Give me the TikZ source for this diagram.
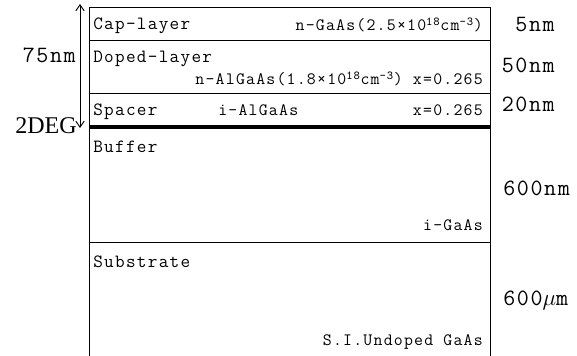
\documentclass[tikz,border=0pt]{standalone}
\usepackage{fontspec}
\setmainfont{Liberation Serif}
\newfontfamily\stackfont{Latin Modern Mono}[LetterSpace=7]
\usetikzlibrary{arrows.meta}
\tikzset{
  layername/.style={anchor=base west,inner sep=0pt,
    font=\stackfont\fontsize{14}{16}\selectfont},
  material/.style={anchor=base east,inner sep=0pt,
    font=\stackfont\fontsize{13}{15}\selectfont},
  thickness/.style={inner sep=0pt,font=\stackfont\fontsize{17.5}{20}\selectfont},
  boundary/.style={draw=black,line width=0.6pt},
  channel/.style={draw=black,line width=3.6pt},
  arrow/.style={{Straight Barb[length=1.6mm,width=2.2mm]}-{Straight Barb[length=1.6mm,width=2.2mm]},
    line width=0.7pt}
}

\begin{document}
\begin{tikzpicture}[x=0.75pt,y=-0.75pt]
  \useasboundingbox (0,0) rectangle (577,356);
  % layer stack
  \draw[boundary] (89,356) -- (89,7) -- (490,7) -- (490,356);
  \draw[boundary] (89,40) -- (490,40);
  \draw[boundary] (89,93) -- (490,93);
  \draw[boundary] (89,242) -- (490,242);
  \draw[channel] (89,127) -- (490,127);

  % layer names
  \node[layername] (cap) at (93,30) {Cap-layer};
  \node[layername] (dop) at (93,63) {Doped-layer};
  \node[layername] (spa) at (93,116) {Spacer};
  \node[layername] (buf) at (93,152) {Buffer};
  \node[layername] (sub) at (93,267) {Substrate};

  % materials
  \node[material] (capm) at (483,31) {n-GaAs(2.5×10\textsuperscript{18}cm\textsuperscript{-3})};
  \node[material] (dopm) at (483,85) {n-AlGaAs(1.8×10\textsuperscript{18}cm\textsuperscript{-3}) x=0.265};
  \node[material,anchor=base west] (spam) at (218,116) {i-AlGaAs};
  \node[material] (spax) at (483,116) {x=0.265};
  \node[material] (bufm) at (483,230) {i-GaAs};
  \node[material] (subm) at (483,345) {S.I.Undoped GaAs};

  % thicknesses
  \node[thickness,anchor=base east] (t5) at (555,32) {5nm};
  \node[thickness,anchor=base east] (t50) at (555,73) {50nm};
  \node[thickness,anchor=base east] (t20) at (555,112) {20nm};
  \node[thickness,anchor=base west] (t600) at (503,195) {600nm};
  \node[thickness,anchor=base west] (tsub) at (503,305) {600$\mu$m};

  % depth of the 2DEG
  \coordinate (surf) at (80,4);
  \coordinate (deg) at (80,128);
  \draw[arrow] (surf) -- (deg);
  \node[thickness,anchor=base east] (t75) at (76,63) {75nm};
  \node[anchor=base east,inner sep=0pt,font=\fontsize{18}{20}\selectfont] (tdeg) at (77,133) {2DEG};
\end{tikzpicture}
\end{document}
